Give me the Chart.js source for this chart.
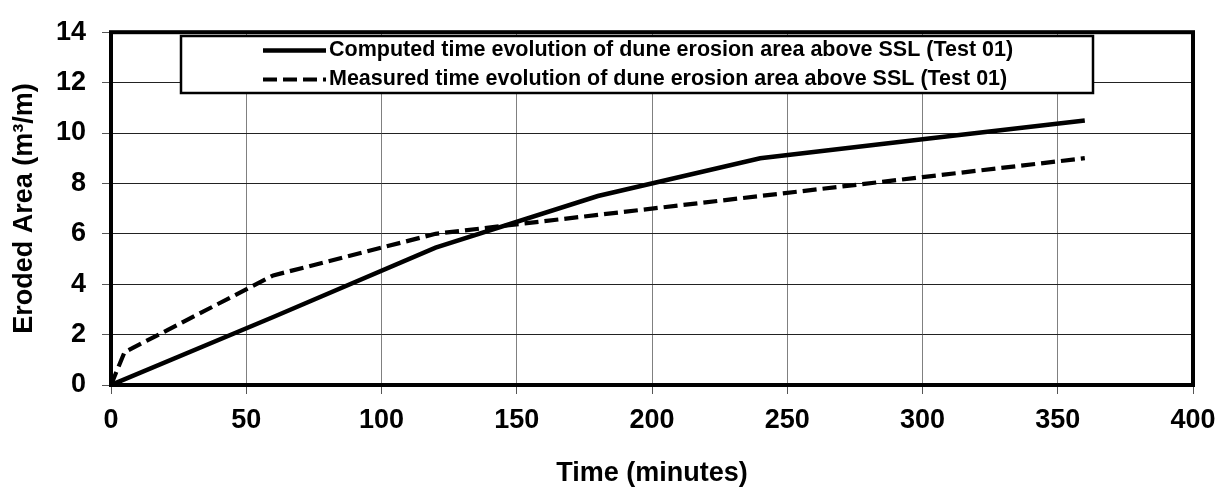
<!DOCTYPE html>
<html>
<head>
<meta charset="utf-8">
<script src="https://cdn.jsdelivr.net/npm/chart.js@4/dist/chart.umd.min.js"></script>
<style>
  html, body { margin: 0; padding: 0; background: #fff; }
  canvas { display: block; }
</style>
</head>
<body>
<canvas id="myChart" width="1227" height="492"></canvas>
<script>
// dune erosion, Test 01
const computedTime = [0, 60, 120, 180, 240, 300, 360]
const computedArea = [0, 2.7, 5.45, 7.5, 9.0, 9.75, 10.5]
const measuredTime = [0, 5, 60, 120, 180, 240, 300, 360]
const measuredArea = [0, 1.3, 4.35, 6.0, 6.75, 7.5, 8.25, 9.0]

const seriesNames = [
	'Computed time evolution of dune erosion area above SSL (Test 01)',
	'Measured time evolution of dune erosion area above SSL (Test 01)'
]
const xTicks = [0, 50, 100, 150, 200, 250, 300, 350, 400]
const yTicks = [0, 2, 4, 6, 8, 10, 12, 14]

const FONT = '"Liberation Sans", Arial, sans-serif'

function toPoints(xs, ys) {
	return xs.map((x, i) => ({ x: x, y: ys[i] }))
}

// thick frame round the plot plus the boxed legend
const framePlugin = {
	id: 'frame',
	afterDraw(chart) {
		const ctx = chart.ctx
		const a = chart.chartArea
		ctx.save()
		ctx.strokeStyle = '#000'
		ctx.lineWidth = 4
		ctx.strokeRect(a.left, a.top, a.right - a.left, a.bottom - a.top)

		// legend box
		const bx = 181, by = 36, bw = 912, bh = 57
		ctx.fillStyle = '#fff'
		ctx.fillRect(bx, by, bw, bh)
		ctx.lineWidth = 2.5
		ctx.strokeRect(bx, by, bw, bh)

		const rows = [50.5, 79.5]
		chart.data.datasets.forEach((ds, i) => {
			const y = rows[i]
			ctx.beginPath()
			ctx.lineWidth = ds.borderWidth
			ctx.setLineDash(ds.borderDash || [])
			ctx.moveTo(263, y)
			ctx.lineTo(326, y)
			ctx.stroke()
			ctx.setLineDash([])
			ctx.fillStyle = '#000'
			ctx.font = 'bold 21.5px ' + FONT
			ctx.textBaseline = 'middle'
			ctx.textAlign = 'left'
			ctx.fillText(ds.label, 329, y)
		})
		ctx.restore()
	}
}

var ctx = document.getElementById('myChart').getContext('2d')
var myChart = new Chart(ctx, {
	type: 'line',
	data: {
		datasets: [{
			label: seriesNames[0],
			data: toPoints(computedTime, computedArea),
			borderColor: '#000',
			borderWidth: 4.5,
			pointRadius: 0,
			tension: 0,
			fill: false
		}, {
			label: seriesNames[1],
			data: toPoints(measuredTime, measuredArea),
			borderColor: '#000',
			borderWidth: 4.2,
			borderDash: [14, 6],
			pointRadius: 0,
			tension: 0,
			fill: false
		}]
	},
	options: {
		responsive: false,
		animation: false,
		devicePixelRatio: 1,
		layout: { padding: { top: 21, right: 34, bottom: 0, left: 0 } },
		plugins: {
			legend: { display: false },
			tooltip: { enabled: false }
		},
		scales: {
			x: {
				type: 'linear',
				min: 0,
				max: 400,
				afterBuildTicks: (scale) => { scale.ticks = xTicks.map(v => ({ value: v })) },
				afterFit: (scale) => { scale.height = 107 },
				ticks: {
					color: '#000',
					padding: 10,
					maxRotation: 0,
					font: { family: FONT, size: 27, weight: 'bold' }
				},
				grid: { color: '#808080', lineWidth: 1, tickLength: 9, tickColor: '#555' },
				border: { display: false },
				title: {
					display: true,
					text: 'Time (minutes)',
					color: '#000',
					padding: { top: 0, bottom: 2.5 },
					font: { family: FONT, size: 27, weight: 'bold', lineHeight: 1.2 }
				}
			},
			y: {
				min: 0,
				max: 14,
				afterBuildTicks: (scale) => { scale.ticks = yTicks.map(v => ({ value: v })) },
				afterFit: (scale) => { scale.width = 111 },
				ticks: {
					color: '#000',
					padding: 16,
					font: { family: FONT, size: 27, weight: 'bold' }
				},
				grid: { color: '#222', lineWidth: 1, tickLength: 9, tickColor: '#555' },
				border: { display: false },
				title: {
					display: true,
					text: 'Eroded Area (m³/m)',
					color: '#000',
					padding: { top: 8, bottom: 0 },
					font: { family: FONT, size: 27, weight: 'bold', lineHeight: 1.2 }
				}
			}
		}
	},
	plugins: [framePlugin]
})
</script>
</body>
</html>
